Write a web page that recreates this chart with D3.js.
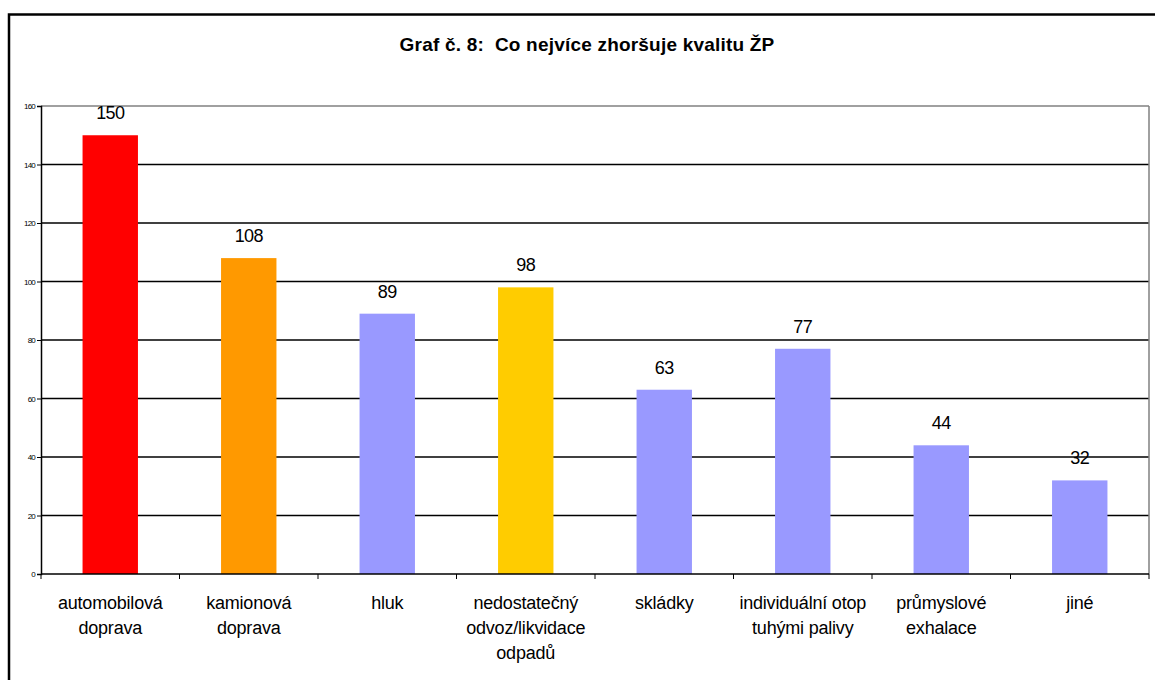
<!DOCTYPE html>
<html>
<head>
<meta charset="utf-8">
<script src="https://cdn.jsdelivr.net/npm/d3@7"></script>
<style>
  body { margin: 0; background: #fff; }
  text { font-family: 'Liberation Sans', Arial, sans-serif; fill: #000; }
</style>
</head>
<body>
<div id="container"></div>
<script>
const categories = [
  ['automobilová', 'doprava'],
  ['kamionová', 'doprava'],
  ['hluk'],
  ['nedostatečný', 'odvoz/likvidace', 'odpadů'],
  ['skládky'],
  ['individuální otop', 'tuhými palivy'],
  ['průmyslové', 'exhalace'],
  ['jiné']
];
const values = [150, 108, 89, 98, 63, 77, 44, 32];
const colors = ['#ff0000', '#ff9900', '#9999ff', '#ffcc00', '#9999ff', '#9999ff', '#9999ff', '#9999ff'];
const yTicks = [0, 20, 40, 60, 80, 100, 120, 140, 160];

const w = 1155,
  h = 680;
const plotLeft = 41,
  plotRight = 1149,
  plotTop = 106,
  plotBottom = 574;

const svg = d3.select('#container').append('svg').attr('width', w).attr('height', h);

// outer frame (right and bottom edges fall outside the picture)
svg
  .append('rect')
  .attr('x', 9)
  .attr('y', 14.5)
  .attr('width', 1160)
  .attr('height', 700)
  .attr('fill', 'none')
  .attr('stroke', '#000')
  .attr('stroke-width', 2.5);

svg
  .append('text')
  .text('Graf č. 8:  Co nejvíce zhoršuje kvalitu ŽP')
  .attr('x', 587)
  .attr('y', 51)
  .attr('text-anchor', 'middle')
  .attr('font-weight', 'bold')
  .attr('font-size', 19)
  .attr('letter-spacing', 0.2)
  .style('white-space', 'pre');

const xScale = d3
  .scaleBand()
  .domain(d3.range(categories.length))
  .range([plotLeft, plotRight])
  .paddingInner(0.6)
  .paddingOuter(0.3);

const yScale = d3.scaleLinear().domain([0, 160]).range([plotBottom, plotTop]);

// gridlines
svg
  .append('g')
  .selectAll('line')
  .data(yTicks.filter((d) => d > 0))
  .enter()
  .append('line')
  .attr('x1', plotLeft)
  .attr('x2', plotRight)
  .attr('y1', (d) => yScale(d))
  .attr('y2', (d) => yScale(d))
  .attr('stroke', (d) => (d === 160 ? '#808080' : '#000'))
  .attr('stroke-width', 1.5);

// right plot border
svg
  .append('line')
  .attr('x1', plotRight)
  .attr('x2', plotRight)
  .attr('y1', plotTop)
  .attr('y2', plotBottom)
  .attr('stroke', '#808080')
  .attr('stroke-width', 1.5);

svg
  .selectAll('rect.bar')
  .data(values)
  .enter()
  .append('rect')
  .attr('class', 'bar')
  .attr('x', (d, i) => xScale(i))
  .attr('width', xScale.bandwidth())
  .attr('y', (d) => yScale(d))
  .attr('height', (d) => plotBottom - yScale(d))
  .attr('fill', (d, i) => colors[i]);

svg
  .selectAll('text.val')
  .data(values)
  .enter()
  .append('text')
  .attr('class', 'val')
  .text((d) => d)
  .attr('x', (d, i) => xScale(i) + xScale.bandwidth() / 2)
  .attr('y', (d) => yScale(d) - 16)
  .attr('text-anchor', 'middle')
  .attr('font-size', 18)
  .attr('letter-spacing', -0.6);

// y axis
const yAxis = d3.axisLeft(yScale).tickValues(yTicks).tickSize(4).tickPadding(2);
const gy = svg
  .append('g')
  .attr('transform', 'translate(' + plotLeft + ',0)')
  .call(yAxis);
gy.select('.domain').attr('stroke', '#000').attr('stroke-width', 1.5);
gy.selectAll('.tick line').attr('stroke', '#000');
gy.selectAll('.tick text')
  .attr('font-size', 8)
  .attr('letter-spacing', -0.8)
  .attr('font-family', "'Liberation Sans', Arial, sans-serif");

// x axis with ticks at category boundaries
const step = (plotRight - plotLeft) / categories.length;
svg
  .append('line')
  .attr('x1', plotLeft)
  .attr('x2', plotRight)
  .attr('y1', plotBottom)
  .attr('y2', plotBottom)
  .attr('stroke', '#000')
  .attr('stroke-width', 1.5);
svg
  .append('g')
  .selectAll('line')
  .data(d3.range(categories.length + 1))
  .enter()
  .append('line')
  .attr('x1', (d) => plotLeft + d * step)
  .attr('x2', (d) => plotLeft + d * step)
  .attr('y1', plotBottom)
  .attr('y2', plotBottom + 5)
  .attr('stroke', '#000');

const labels = svg
  .selectAll('text.cat')
  .data(categories)
  .enter()
  .append('text')
  .attr('class', 'cat')
  .attr('text-anchor', 'middle')
  .attr('font-size', 18)
  .attr('letter-spacing', -0.2);
labels
  .selectAll('tspan')
  .data((d, i) => d.map((t) => ({ t: t, i: i })))
  .enter()
  .append('tspan')
  .attr('x', (d) => xScale(d.i) + xScale.bandwidth() / 2)
  .attr('y', (d, j) => 609 + j * 25)
  .text((d) => d.t);
</script>
</body>
</html>
